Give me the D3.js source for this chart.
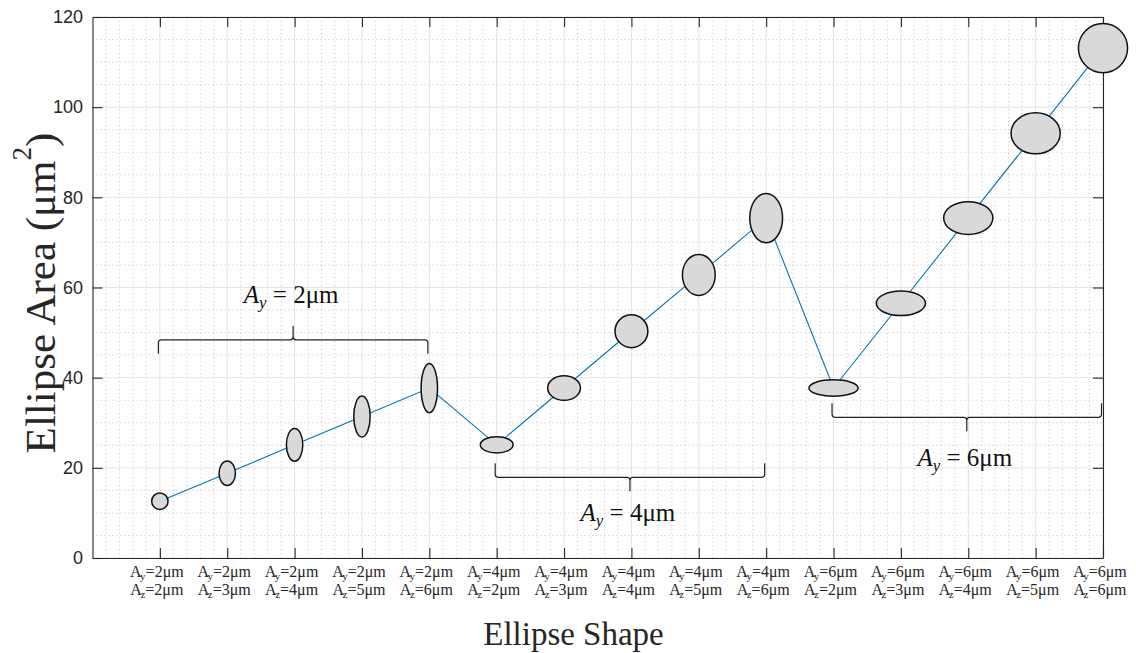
<!DOCTYPE html>
<html>
<head>
<meta charset="utf-8">
<script src="https://cdn.jsdelivr.net/npm/d3@7"></script>
<style>
  html, body { margin: 0; padding: 0; background: #fff; }
  svg { display: block; }
</style>
</head>
<body>
<svg id="chart" width="1136" height="653"></svg>
<script>
// Ellipse semi-axes (µm) for each shape, and the resulting area (µm²)
const ayValues = [2, 2, 2, 2, 2, 4, 4, 4, 4, 4, 6, 6, 6, 6, 6];
const azValues = [2, 3, 4, 5, 6, 2, 3, 4, 5, 6, 2, 3, 4, 5, 6];
const areaValues = [12.6, 18.8, 25.1, 31.4, 37.7, 25.1, 37.7, 50.3, 62.8, 75.4, 37.7, 56.5, 75.4, 94.2, 113.1];
const categories = d3.range(1, ayValues.length + 1);
const yTicks = [0, 20, 40, 60, 80, 100, 120];

// Groups sharing the same A_y
const groupAy = [2, 4, 6];
const groupStart = [1, 6, 11];
const groupEnd = [5, 10, 15];

const W = 1136, H = 653;
const margin = { left: 92.5, right: 1103, top: 17, bottom: 558 };

const svg = d3.select("#chart");
const x = d3.scaleLinear().domain([0, 15]).range([margin.left, margin.right]);
const y = d3.scaleLinear().domain([0, 120]).range([margin.bottom, margin.top]);
// marker semi-axis in pixels per µm
const rScale = d3.scaleLinear().domain([0, 6]).range([0, 24.6]);

const serif = "'Liberation Serif', 'Times New Roman', serif";
const sans = "'Liberation Sans', Arial, sans-serif";
const axisColor = "#262626";

// ---- grid ----
const grid = svg.append("g");
const minorX = d3.range(0, 15.0001, 0.2).filter(v => Math.abs(v - Math.round(v)) > 1e-6);
const minorY = d3.range(0, 120.0001, 5).filter(v => v % 20 !== 0);

grid.selectAll(".mx").data(minorX).join("line")
  .attr("x1", d => x(d)).attr("x2", d => x(d))
  .attr("y1", margin.top).attr("y2", margin.bottom)
  .attr("stroke", "#c4c4c4").attr("stroke-width", 1).attr("stroke-dasharray", "1,3");
grid.selectAll(".my").data(minorY).join("line")
  .attr("x1", margin.left).attr("x2", margin.right)
  .attr("y1", d => y(d)).attr("y2", d => y(d))
  .attr("stroke", "#c4c4c4").attr("stroke-width", 1).attr("stroke-dasharray", "1,3");
grid.selectAll(".gx").data(categories).join("line")
  .attr("x1", d => x(d)).attr("x2", d => x(d))
  .attr("y1", margin.top).attr("y2", margin.bottom)
  .attr("stroke", "#e3e3e3").attr("stroke-width", 1);
grid.selectAll(".gy").data(yTicks).join("line")
  .attr("x1", margin.left).attr("x2", margin.right)
  .attr("y1", d => y(d)).attr("y2", d => y(d))
  .attr("stroke", "#e3e3e3").attr("stroke-width", 1);

// ---- axes (box with inward ticks on all sides) ----
const tickLen = 10;
const axes = svg.append("g");
axes.append("g").attr("transform", `translate(0,${margin.bottom})`)
  .call(d3.axisBottom(x).tickValues(categories).tickSizeInner(-tickLen).tickSizeOuter(0).tickFormat(""));
axes.append("g").attr("transform", `translate(0,${margin.top})`)
  .call(d3.axisTop(x).tickValues(categories).tickSizeInner(-tickLen).tickSizeOuter(0).tickFormat(""));
axes.append("g").attr("transform", `translate(${margin.left},0)`)
  .call(d3.axisLeft(y).tickValues(yTicks).tickSizeInner(-tickLen).tickSizeOuter(0).tickPadding(9.5))
  .call(g => g.selectAll("text").attr("font-family", sans).attr("font-size", 18).attr("fill", axisColor));
axes.append("g").attr("transform", `translate(${margin.right},0)`)
  .call(d3.axisRight(y).tickValues(yTicks).tickSizeInner(-tickLen).tickSizeOuter(0).tickFormat(""));
axes.selectAll(".domain").attr("stroke", axisColor).attr("stroke-width", 1.1);
axes.selectAll(".tick line").attr("stroke", axisColor).attr("stroke-width", 1.1);

// ---- x tick labels (two lines with subscripts) ----
const xl = svg.append("g").attr("font-family", serif).attr("fill", axisColor).attr("font-size", 16);
categories.forEach((c, i) => {
  const lines = [["y", ayValues[i]], ["z", azValues[i]]];
  lines.forEach(([sub, val], k) => {
    const t = xl.append("text")
      .attr("x", x(c) - 3).attr("y", margin.bottom + 19 + k * 18)
      .attr("text-anchor", "middle");
    t.append("tspan").text("A");
    t.append("tspan").attr("font-size", 11).attr("dy", 3).attr("dx", -1.5).text(sub);
    t.append("tspan").attr("dy", -3).text(`=${val}μm`);
  });
});

// ---- connecting line ----
const pts = categories.map((c, i) => [c, areaValues[i]]);
svg.append("path")
  .datum(pts)
  .attr("fill", "none")
  .attr("stroke", "#0072BD")
  .attr("stroke-width", 1.1)
  .attr("d", d3.line().x(d => x(d[0])).y(d => y(d[1])));

// ---- braces with group labels ----
const braceLevel = [48.4, 17.9, 31.2];   // brace baseline (data units)
const braceSide = [1, -1, -1];           // +1: arms point down, tip up
const labelBase = [56.5, 8.2, 20.4];     // label baseline (data units)
const armLen = 14, rc = 3;
const braces = svg.append("g");
groupAy.forEach((ay, i) => {
  const x1 = x(groupStart[i]) - 1.5, x2 = x(groupEnd[i]) - 1.5, xm = (x1 + x2) / 2;
  const yb = y(braceLevel[i]), s = braceSide[i];
  const p = d3.path();
  p.moveTo(x1, yb + s * armLen);
  p.lineTo(x1, yb + s * rc);
  p.quadraticCurveTo(x1, yb, x1 + rc, yb);
  p.lineTo(xm - rc, yb);
  p.quadraticCurveTo(xm, yb, xm, yb - s * rc);
  p.lineTo(xm, yb - s * armLen);
  p.moveTo(xm, yb - s * rc);
  p.quadraticCurveTo(xm, yb, xm + rc, yb);
  p.lineTo(x2 - rc, yb);
  p.quadraticCurveTo(x2, yb, x2, yb + s * rc);
  p.lineTo(x2, yb + s * armLen);
  braces.append("path").attr("d", p.toString())
    .attr("fill", "none").attr("stroke", "#222").attr("stroke-width", 1.2);

  const t = braces.append("text")
    .attr("x", xm - 2).attr("y", y(labelBase[i]))
    .attr("text-anchor", "middle")
    .attr("font-family", serif).attr("font-size", 25).attr("fill", "#111");
  t.append("tspan").attr("font-style", "italic").text("A");
  t.append("tspan").attr("font-style", "italic").attr("font-size", 17).attr("dy", 5).text("y");
  t.append("tspan").attr("dy", -5).text(` = ${ay}μm`);
});

// ---- ellipse markers ----
svg.append("g").selectAll("ellipse").data(categories).join("ellipse")
  .attr("cx", (d, i) => x(d))
  .attr("cy", (d, i) => y(areaValues[i]))
  .attr("rx", (d, i) => rScale(ayValues[i]))
  .attr("ry", (d, i) => rScale(azValues[i]))
  .attr("fill", "#d9d9d9")
  .attr("stroke", "#111")
  .attr("stroke-width", 1.5);

// ---- axis titles ----
svg.append("text")
  .attr("x", 573.5).attr("y", 645)
  .attr("text-anchor", "middle")
  .attr("font-family", serif).attr("font-size", 33).attr("fill", axisColor)
  .text("Ellipse Shape");

const yt = svg.append("text")
  .attr("transform", `translate(55,293) rotate(-90)`)
  .attr("text-anchor", "middle")
  .attr("font-family", serif).attr("font-size", 43).attr("fill", axisColor);
yt.append("tspan").text("Ellipse Area (μm");
yt.append("tspan").attr("font-size", 27).attr("dy", -24).text("2");
yt.append("tspan").attr("dy", 24).text(")");
</script>
</body>
</html>
